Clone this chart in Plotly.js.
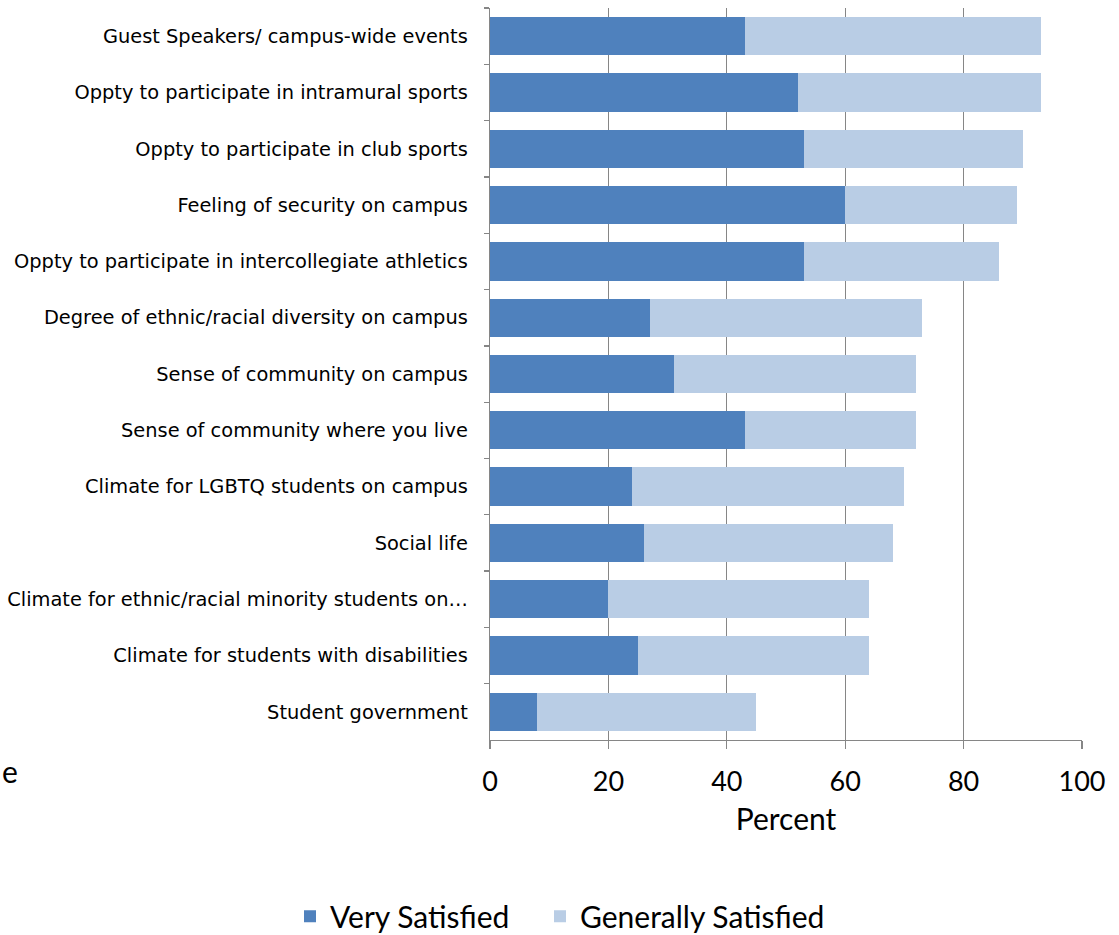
<!DOCTYPE html>
<html>
<head>
<meta charset="utf-8">
<script src="https://cdn.plot.ly/plotly-3.0.1.min.js"></script>
<style>html,body{margin:0;padding:0;background:#fff;}#chart{width:1119px;height:935px;}</style>
</head>
<body>
<div id="chart"></div>
<script>
const categories = [
  "Guest Speakers/ campus-wide events",
  "Oppty to participate in intramural sports",
  "Oppty to participate in club sports",
  "Feeling of security on campus",
  "Oppty to participate in intercollegiate athletics",
  "Degree of ethnic/racial diversity on campus",
  "Sense of community on campus",
  "Sense of community where you live",
  "Climate for LGBTQ students on campus",
  "Social life",
  "Climate for ethnic/racial minority students on…",
  "Climate for students with disabilities",
  "Student government"
];
const verySatisfied = [43, 52, 53, 60, 53, 27, 31, 43, 24, 26, 20, 25, 8];
const generallySatisfied = [50, 41, 37, 29, 33, 46, 41, 29, 46, 42, 44, 39, 37];
const xTicks = [0, 20, 40, 60, 80, 100];

const font = "Lato, Open Sans, sans-serif";
const labelFont = "DejaVu Sans, sans-serif";
const traces = [
  {type: "bar", orientation: "h", name: "Very Satisfied", y: categories, x: verySatisfied,
   marker: {color: "#4F81BD"}, hoverinfo: "x+y", legend: "legend", showlegend: true},
  {type: "bar", orientation: "h", name: "Generally Satisfied", y: categories, x: generallySatisfied,
   marker: {color: "#B9CDE5"}, hoverinfo: "x+y", legend: "legend2", showlegend: true}
];
const legendStyle = {
  orientation: "h", xref: "container", yref: "container",
  xanchor: "left", y: 0.02, yanchor: "middle",
  font: {size: 30, family: font}, itemwidth: 30, bgcolor: "rgba(0,0,0,0)"
};
const layout = {
  width: 1119, height: 935,
  margin: {l: 490, r: 37, t: 8, b: 195},
  showlegend: true,
  barmode: "stack",
  bargap: 0.32,
  paper_bgcolor: "#fff", plot_bgcolor: "#fff",
  font: {family: font, color: "#000"},
  xaxis: {
    range: [0, 100], tickvals: xTicks, ticktext: xTicks.map(String),
    showgrid: true, gridcolor: "#868686", gridwidth: 1.3,
    showline: true, linecolor: "#868686", linewidth: 1.3,
    ticks: "outside", ticklen: 8, tickcolor: "#868686", tickwidth: 1.3,
    tickfont: {size: 27, family: font}, zeroline: false, mirror: false,
    ticklabelstandoff: 9,
    title: {text: "Percent", font: {size: 30, family: font}, standoff: 13},
    automargin: false
  },
  yaxis: {
    type: "category", autorange: "reversed",
    showline: true, linecolor: "#868686", linewidth: 1.3,
    ticks: "outside", ticklen: 5, tickcolor: "#868686", tickwidth: 1.3,
    tickson: "boundaries", showgrid: false,
    tickfont: {size: 19.4, family: labelFont}, ticklabelstandoff: 17,
    automargin: false
  },
  legend: Object.assign({}, legendStyle, {x: 290 / 1119}),
  legend2: Object.assign({}, legendStyle, {x: 540 / 1119}),
  annotations: [
    {text: "e", xref: "paper", yref: "paper", x: -0.828, y: -0.042, xanchor: "left", yanchor: "middle",
     showarrow: false, font: {size: 30, family: font, color: "#000"}}
  ]
};
Plotly.newPlot("chart", traces, layout, {displayModeBar: false, staticPlot: true});
</script>
</body>
</html>
